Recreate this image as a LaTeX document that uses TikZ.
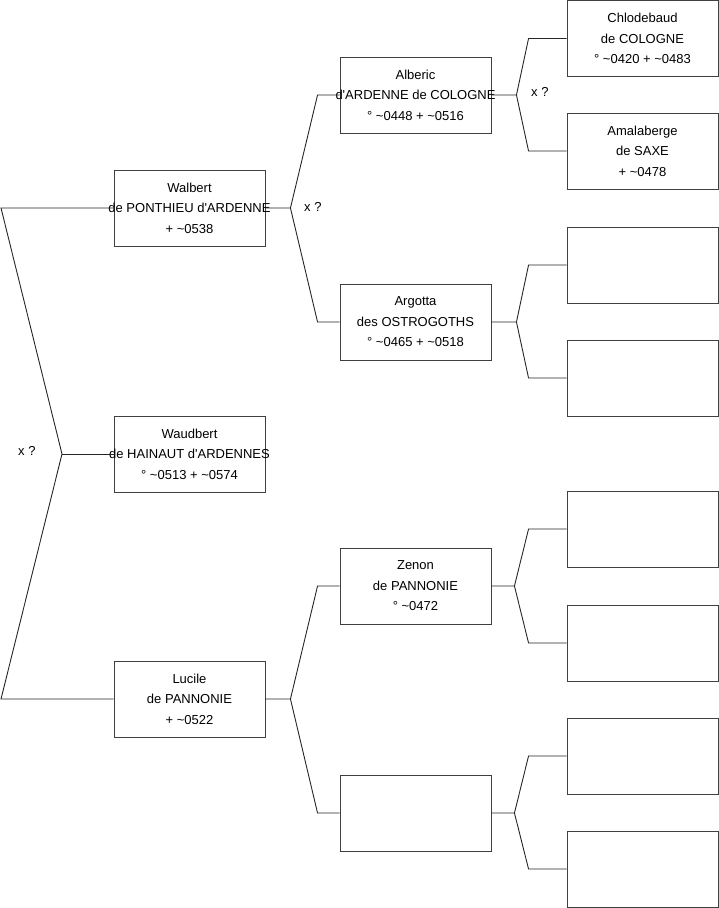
\documentclass[tikz,border=0pt]{standalone}
\usepackage{fontspec}
\setmainfont{Liberation Sans}
\usepackage{tikz}
\usetikzlibrary{positioning, calc}

\tikzset{
  person/.style={draw=black!75, line width=0.9pt, minimum width=151pt, minimum height=76pt,
    inner sep=0pt, align=center, font=\fontsize{13}{20.5}\selectfont},
  link/.style={black!85, line width=0.9pt},
  note/.style={font=\fontsize{13}{14}\selectfont, inner sep=0pt}
}
% line wider than its box: keep it centred and let it run over
\newcommand{\wide}[1]{\makebox[0pt]{#1}}
\newcommand{\ap}{\textquotesingle}
% fork from a parent to its two children
\newcommand{\fork}[4]{%
  \draw[link] (#1.east) -- ++(#4,0) coordinate (#1f) -- ([xshift=-38pt]#2.west) -- (#2.west);
  \draw[link] (#1f) -- ([xshift=-38pt]#3.west) -- (#3.west);
}

\begin{document}
\begin{tikzpicture}[x=1pt, y=-1pt]
        \useasboundingbox (0,0) rectangle (719,908);

        % Column 1
        \node[person] (wal) at (189.5,208) {Walbert\\\wide{de PONTHIEU d\ap ARDENNE}\\+ \textasciitilde0538};
        \node[person] (wau) at (189.5,454) {Waudbert\\\wide{de HAINAUT d\ap ARDENNES}\\° \textasciitilde0513 + \textasciitilde0574};
        \node[person] (luc) at (189.5,699) {Lucile\\de PANNONIE\\+ \textasciitilde0522};

        % Column 2
        \node[person] (alb) at (415.5,95) {Alberic\\\wide{d\ap ARDENNE de COLOGNE}\\° \textasciitilde0448 + \textasciitilde0516};
        \node[person] (arg) at (415.5,322) {Argotta\\des OSTROGOTHS\\° \textasciitilde0465 + \textasciitilde0518};
        \node[person] (zen) at (415.5,586) {Zenon\\de PANNONIE\\° \textasciitilde0472};
        \node[person] (unk) at (415.5,813) {};

        % Column 3
        \node[person] (chl) at (642.5,38.5) {Chlodebaud\\de COLOGNE\\° \textasciitilde0420 + \textasciitilde0483};
        \node[person] (ama) at (642.5,151) {Amalaberge\\de SAXE\\+ \textasciitilde0478};
        \node[person] (e3) at (642.5,265) {};
        \node[person] (e4) at (642.5,378) {};
        \node[person] (e5) at (642.5,529) {};
        \node[person] (e6) at (642.5,643) {};
        \node[person] (e7) at (642.5,756) {};
        \node[person] (e8) at (642.5,869) {};

        % Root fork
        \coordinate (root) at (62,454);
        \coordinate (rtop) at (1,208);
        \coordinate (rbot) at (1,699);
        \draw[link] (wal.west) -- (rtop) -- (root) -- (rbot) -- (luc.west);
        \draw[link] (root) -- (wau.west);

        % Forks between columns
        \draw[link] (wal.east) -- ++(25,0) coordinate (walf) -- ([xshift=-22pt]alb.west) -- (alb.west);
        \draw[link] (walf) -- ([xshift=-22pt]arg.west) -- (arg.west);
        \draw[link] (luc.east) -- ++(25,0) coordinate (lucf) -- ([xshift=-22pt]zen.west) -- (zen.west);
        \draw[link] (lucf) -- ([xshift=-22pt]unk.west) -- (unk.west);
        \fork{alb}{chl}{ama}{25}
        \fork{arg}{e3}{e4}{25}
        \fork{zen}{e5}{e6}{23}
        \fork{unk}{e7}{e8}{23}

        % Unsure unions
        \node[note, anchor=west] (xr) at (18,451) {x ?};
        \node[note, anchor=west] (xw) at (304,207) {x ?};
        \node[note, anchor=west] (xa) at (531,92) {x ?};
\end{tikzpicture}
\end{document}
